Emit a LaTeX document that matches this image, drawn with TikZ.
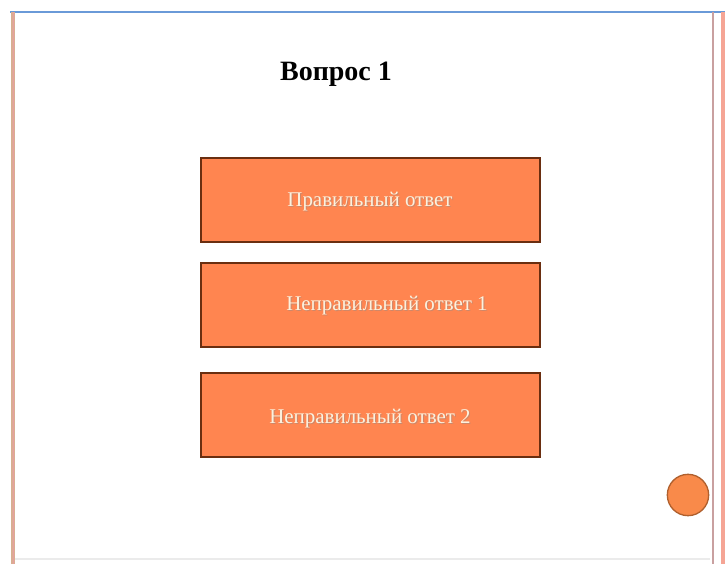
\documentclass[tikz,border=0pt]{standalone}
\usepackage{fontspec}
\setmainfont{Liberation Serif}
\begin{document}
\begin{tikzpicture}[x=0.75pt,y=-0.75pt,
  answerbox/.style={draw=boxedge,fill=boxfill,line width=1.5pt,minimum width=254pt,minimum height=63pt,inner sep=0pt},
  answertext/.style={text=cream,font=\fontsize{15.7}{17}\selectfont,inner sep=0pt},
  shadowtext/.style={text=black!45,font=\fontsize{15.7}{17}\selectfont,inner sep=0pt,opacity=0.45}]
\definecolor{boxfill}{HTML}{FF8550}
\definecolor{boxedge}{HTML}{6A2E10}
\definecolor{cream}{HTML}{FBF1DE}
\definecolor{topblue}{HTML}{6A9AD8}
\definecolor{lefttan}{HTML}{D9AE92}
\definecolor{leftpink}{HTML}{E8A0A0}
\definecolor{rightgray}{HTML}{C9A0A0}
\definecolor{rightpink}{HTML}{F5A595}
\definecolor{circfill}{HTML}{F98A4A}
\definecolor{circedge}{HTML}{B0602E}
\useasboundingbox[fill=white] (0,0) rectangle (725,564);
% frame lines
\draw[topblue,line width=1.2pt] (10,12) -- (725,12);
\draw[black!8,line width=0.8pt] (14,559) -- (710,559);
\draw[lefttan,line width=3pt] (13,12) -- (13,564);
\draw[leftpink,line width=0.8pt] (13.5,12) -- (13.5,564);
\draw[rightgray,line width=1.5pt] (713,12) -- (713,564);
\draw[rightpink,line width=3pt] (722.5,12) -- (722.5,564);
% title
\node[font=\bfseries\fontsize{21}{23}\selectfont,inner sep=0pt] (title) at (336,74) {Вопрос 1};
% boxes
\node[answerbox] (b1) at (370.5,199.5) {};
\node[answerbox] (b2) at (370.5,304.5) {};
\node[answerbox] (b3) at (370.5,415) {};
% texts
\node[shadowtext] (s1) at (371,203) {Правильный ответ};
\node[answertext] (t1) at (370,202) {Правильный ответ};
\node[shadowtext] (s2) at (388,307) {Неправильный ответ 1};
\node[answertext] (t2) at (387,306) {Неправильный ответ 1};
\node[shadowtext] (s3) at (371,420) {Неправильный ответ 2};
\node[answertext] (t3) at (370,419) {Неправильный ответ 2};
% circle
\node[circle,draw=circedge,fill=circfill,line width=1pt,minimum size=31pt,inner sep=0pt] (c) at (688,495) {};
\end{tikzpicture}
\end{document}
